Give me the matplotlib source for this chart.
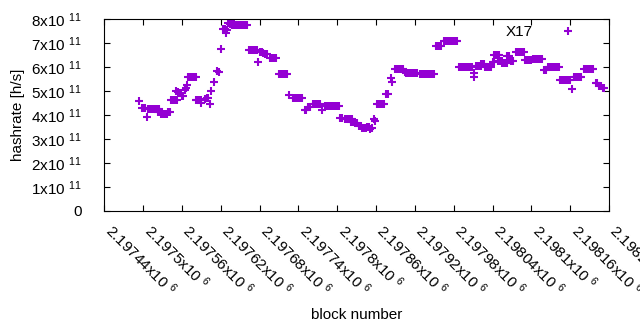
import numpy as np
import matplotlib
matplotlib.use("Agg")
import matplotlib.pyplot as plt
import matplotlib.transforms as mtransforms

plt.rcParams['font.family'] = ['Liberation Sans', 'DejaVu Sans']
plt.rcParams['mathtext.fontset'] = 'custom'
plt.rcParams['mathtext.rm'] = 'Liberation Sans'
plt.rcParams['mathtext.it'] = 'Liberation Sans:italic'

# block numbers given as offset from the first tick
base_block = 2197440
block_offset = [
    54, 58, 61, 63, 66,
    67, 70, 73, 76, 79, 82, 84, 83, 86, 89,
    88, 91, 94, 97, 98, 101,
    103, 106, 109, 112,
    111, 114, 117, 120, 122, 124, 126, 128,
    130, 133, 136, 139, 142,
    141, 144, 147, 150, 150,
    155, 158, 161, 163, 165, 169, 174, 177, 181,
    183, 186, 189, 188, 191, 196, 194, 197, 200,
    202, 205, 208, 211, 214, 217, 220,
    224, 227, 230, 233, 236, 238,
    240, 243, 246, 249, 252,
    256, 259, 262, 265,
    270, 273, 276, 279, 282, 285,
    291, 294, 297, 300, 303, 306,
    310, 312, 315, 318,
    322, 325, 328, 331, 333, 336,
    341, 344, 347, 350, 353, 356, 359, 362,
    365, 367,
    372, 375, 378, 381, 383,
    382, 385, 387, 390,
    393, 396, 398, 401, 404,
    406, 409, 411, 413, 417, 419,
    422, 425, 428, 431, 433,
    436, 439, 443, 445,
    450, 453, 456, 459, 462, 464, 466,
    466, 469, 472, 475, 478, 481, 484,
    488, 491, 494, 497, 500, 503, 506, 509,
    512, 515, 518, 521,
    525, 528, 531, 534, 537, 540, 543, 545,
    548, 551, 554, 557, 560, 563, 566, 568,
    571, 571,
    574, 577, 580, 582, 582, 585, 587,
    589, 592, 595, 597,
    600, 602, 602, 605, 608, 610,
    609, 612, 615, 615, 618, 621, 623,
    623, 625, 629, 632,
    636, 639, 642, 645, 648,
    650, 653, 656, 659,
    662, 665, 668, 671, 674, 677,
    679, 682,
    685, 688, 691, 694, 697, 700, 702,
    705, 708, 711, 714, 717, 719, 723,
    726, 729, 732, 735, 736,
    741, 744, 747, 750, 753, 756,
    760, 762, 765, 767, 770, 772,
]
# hashrate in units of 1e11 h/s
hashrate_e11 = [
    4.59, 4.28, 4.28, 4.28, 3.90,
    4.24, 4.24, 4.24, 4.24, 4.24, 4.24, 4.24, 4.13, 4.13, 4.13,
    4.03, 4.03, 4.03, 4.03, 4.14, 4.14,
    4.62, 4.62, 4.62, 4.62,
    4.99, 4.96, 4.93, 4.80, 4.78, 5.05, 5.12, 5.25,
    5.59, 5.59, 5.59, 5.59, 5.59,
    4.63, 4.63, 4.63, 4.63, 4.51,
    4.68, 4.72, 4.72, 4.46, 5.00, 5.37, 5.85, 5.81, 6.75,
    7.58, 7.58, 7.55, 7.42, 7.84, 7.97, 7.80, 7.78, 7.78,
    7.75, 7.75, 7.75, 7.75, 7.75, 7.75, 7.75,
    6.71, 6.71, 6.71, 6.71, 6.71, 6.20,
    6.62, 6.62, 6.59, 6.57, 6.57,
    6.37, 6.37, 6.37, 6.37,
    5.70, 5.70, 5.70, 5.70, 5.70, 4.82,
    4.70, 4.70, 4.70, 4.70, 4.70, 4.70,
    4.20, 4.20, 4.32, 4.32,
    4.45, 4.45, 4.45, 4.45, 4.45, 4.21,
    4.37, 4.37, 4.37, 4.37, 4.37, 4.37, 4.37, 4.37,
    3.86, 3.86,
    3.82, 3.82, 3.82, 3.82, 3.82,
    3.72, 3.72, 3.67, 3.67,
    3.53, 3.53, 3.46, 3.46, 3.46,
    3.51, 3.51, 3.40, 3.45, 3.82, 3.75,
    4.45, 4.45, 4.45, 4.45, 4.45,
    4.87, 4.87, 5.54, 5.39,
    5.91, 5.91, 5.91, 5.91, 5.91, 5.80, 5.80,
    5.74, 5.74, 5.74, 5.74, 5.74, 5.74, 5.74,
    5.72, 5.72, 5.72, 5.72, 5.72, 5.72, 5.72, 5.72,
    6.87, 6.87, 6.87, 6.87,
    7.08, 7.08, 7.08, 7.08, 7.08, 7.08, 7.08, 7.08,
    6.02, 6.02, 6.02, 6.02, 6.02, 6.02, 6.02, 6.02,
    5.74, 5.60,
    6.06, 6.06, 6.06, 6.06, 6.12, 6.12, 6.12,
    6.02, 6.02, 6.02, 6.02,
    6.20, 6.20, 6.51, 6.51, 6.51, 6.51,
    6.27, 6.27, 6.27, 6.18, 6.18, 6.18, 6.18,
    6.48, 6.48, 6.26, 6.26,
    6.62, 6.62, 6.62, 6.62, 6.62,
    6.31, 6.31, 6.31, 6.31,
    6.33, 6.33, 6.33, 6.33, 6.33, 6.33,
    5.88, 5.88,
    6.00, 6.00, 6.00, 6.00, 6.00, 6.00, 6.00,
    5.45, 5.45, 5.45, 5.45, 5.45, 5.45, 5.10,
    5.60, 5.60, 5.60, 5.60, 5.60,
    5.91, 5.91, 5.91, 5.91, 5.91, 5.91,
    5.33, 5.33, 5.20, 5.20, 5.12, 5.12,
]

blocks = base_block + np.array(block_offset)
hashrate = np.array(hashrate_e11) * 1e11

x_ticks = np.arange(2197440, 2198221, 60)
x_ticklabels = ["%gx10 $^{6}$" % (t / 1e6) for t in x_ticks]
y_ticks = np.arange(0, 8.01e11, 1e11)
y_ticklabels = ["0"] + ["%dx10 $^{11}$" % k for k in range(1, 9)]

fig = plt.figure(figsize=(6.4, 3.3), dpi=100)
ax = fig.add_axes([104.3 / 640, 119.3 / 330, 504.7 / 640, 191.4 / 330])

ax.plot(blocks, hashrate, ls='none', marker='+', ms=5.5, mew=1.5,
        color='#9400D3', label='X17')

ax.set_xlim(2197440, 2198220)
ax.set_ylim(0, 8e11)
ax.set_xticks(x_ticks)
ax.set_xticklabels(x_ticklabels, rotation=-45, ha='left', va='center',
                   rotation_mode='anchor', fontsize=11)
ax.set_yticks(y_ticks)
ax.set_yticklabels(y_ticklabels, fontsize=11)
ax.tick_params(direction='in', length=4, width=0.8, top=True, right=True)
ax.tick_params(axis='x', pad=12)
ax.tick_params(axis='y', pad=16)
for s in ax.spines.values():
    s.set_linewidth(0.8)

shift = mtransforms.ScaledTranslation(4 / 100, 0, fig.dpi_scale_trans)
for lbl in ax.get_xticklabels():
    lbl.set_transform(lbl.get_transform() + shift)

ax.set_xlabel('block number', fontsize=11, va='center')
ax.xaxis.set_label_coords(0.5, -0.545)
ax.set_ylabel('hashrate [h/s]', fontsize=11, va='center')
ax.yaxis.set_label_coords(-0.171, 0.5)

ax.legend(loc='center right', bbox_to_anchor=(0.9485, 0.9337), frameon=False,
          markerfirst=False, numpoints=1, handlelength=2, handletextpad=1.3,
          borderpad=0, borderaxespad=0, fontsize=11)

fig.savefig('out.png', dpi=100)
